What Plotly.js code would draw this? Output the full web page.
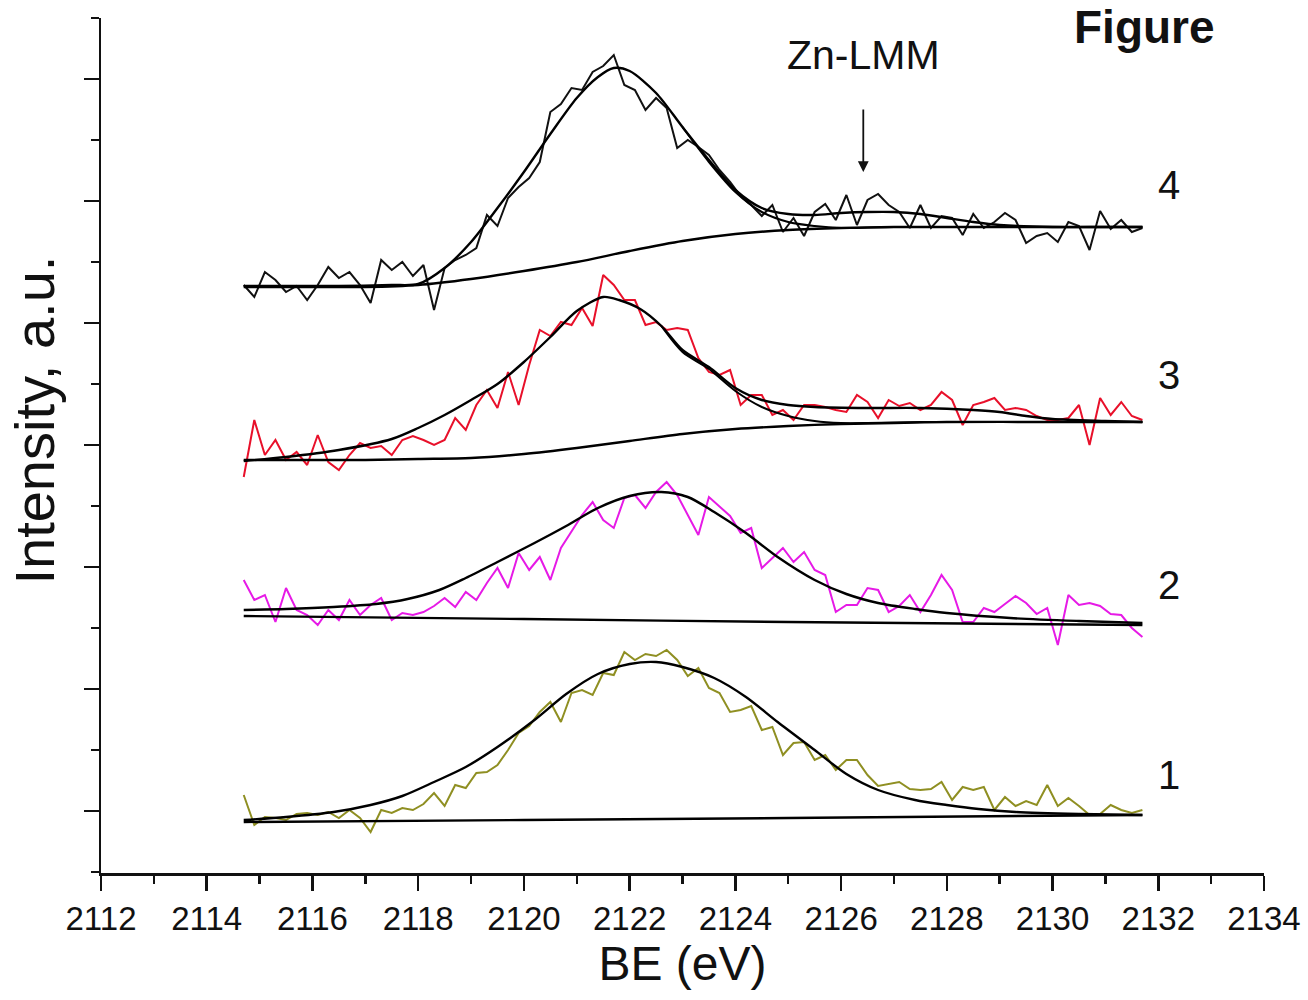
<!DOCTYPE html>
<html>
<head>
<meta charset="utf-8">
<script src="https://cdn.plot.ly/plotly-3.0.1.min.js"></script>
<style>
  html, body { margin: 0; padding: 0; background: #ffffff; }
  #chart { width: 1308px; height: 1000px; }
</style>
</head>
<body>
<div id="chart"></div>
<script>
// Binding energy grid of the measured spectra (eV)
const energy = [2114.7,2114.9,2115.1,2115.3,2115.5,2115.7,2115.9,2116.1,2116.3,2116.5,
  2116.7,2116.9,2117.1,2117.3,2117.5,2117.7,2117.9,2118.1,2118.3,2118.5,
  2118.7,2118.9,2119.1,2119.3,2119.5,2119.7,2119.9,2120.1,2120.3,2120.5,
  2120.7,2120.9,2121.1,2121.3,2121.5,2121.7,2121.9,2122.1,2122.3,2122.5,
  2122.7,2122.9,2123.1,2123.3,2123.5,2123.7,2123.9,2124.1,2124.3,2124.5,
  2124.7,2124.9,2125.1,2125.3,2125.5,2125.7,2125.9,2126.1,2126.3,2126.5,
  2126.7,2126.9,2127.1,2127.3,2127.5,2127.7,2127.9,2128.1,2128.3,2128.5,
  2128.7,2128.9,2129.1,2129.3,2129.5,2129.7,2129.9,2130.1,2130.3,2130.5,
  2130.7,2130.9,2131.1,2131.3,2131.5,2131.7];

// Measured intensities (a.u., vertically offset spectra)
const spec1 = [77,47,55,54,52,58,59,57,60,54,
  62,54,40,62,59,64,62,68,79,66,
  87,84,99,100,107,122,139,146,160,170,
  150,179,182,177,199,197,220,212,218,216,
  222,212,196,204,184,179,160,162,166,142,
  145,117,129,130,112,117,102,112,112,97,
  86,88,90,83,82,83,90,72,85,82,
  85,62,75,66,71,67,87,66,74,66,
  57,58,67,62,59,62];
const spec2 = [292,272,277,250,284,262,257,247,262,252,
  272,257,267,274,252,259,257,260,266,274,
  265,280,272,289,304,284,319,302,315,292,
  324,340,357,370,352,344,374,377,364,380,
  390,377,357,337,375,365,356,339,344,304,
  314,324,310,320,302,297,260,267,267,284,
  282,260,266,277,260,277,297,282,250,250,
  264,260,268,276,269,258,264,227,277,267,
  269,266,258,257,244,235];
const spec3 = [395,452,417,432,412,420,407,437,410,402,
  417,429,424,426,417,432,436,432,427,432,
  454,442,467,482,464,500,467,507,542,536,
  550,547,564,546,597,587,572,572,547,550,
  542,544,542,514,500,497,502,467,477,477,
  457,462,452,467,467,465,462,460,477,470,
  454,472,466,469,462,467,480,472,447,467,
  470,474,462,464,462,456,452,452,454,467,
  427,474,457,470,456,452];
const spec4 = [587,575,600,592,580,586,572,587,605,594,
  600,587,569,612,602,610,596,607,562,604,
  612,617,624,657,646,674,685,694,710,760,
  768,784,782,800,806,817,787,782,762,774,
  764,724,732,725,717,702,690,676,667,656,
  667,640,654,636,660,668,652,677,647,672,
  678,667,660,644,667,644,656,654,637,658,
  644,650,659,652,629,636,639,630,650,646,
  622,661,643,652,640,644];

// Fitted envelopes
const fit1E = [2114.7,2115.5,2116.4,2117.1,2117.7,2118.3,2118.9,2119.5,2120.2,2120.8,2121.4,2122,2122.5,2123,2123.6,2124.2,2124.8,2125.5,2126.1,2126.7,2127.4,2128,2128.6,2129.3,2130.5,2131.7];
const fit1I = [52,55,60,67,76,90,105,125,152,178,198,208,210,205,194,175,150,122,98,82,72,67,63,60,58,57];
const fit2E = [2114.7,2115.5,2116.4,2117.2,2117.8,2118.4,2118.9,2119.5,2120.2,2120.8,2121.4,2122,2122.6,2123.1,2123.6,2124.2,2124.8,2125.5,2126.1,2126.7,2127.4,2128,2129.2,2130.5,2131.7];
const fit2I = [262,263,265,268,273,282,294,310,329,346,364,376,380,375,360,339,315,292,278,269,263,259,254,251,249];
const fit3E = [2114.7,2115.5,2116.5,2117.5,2118,2118.5,2119,2119.5,2120,2120.5,2121,2121.5,2121.8,2122.2,2122.6,2123,2123.5,2124,2124.5,2125,2125.5,2126.5,2127.5,2128.5,2129,2129.5,2130,2131,2131.7];
const fit3I = [411,415,422,433,444,457,472,488,510,535,561,575,572,563,546,522,505,484,472,467,465,464,464,462,460,456,453,451,450];
const fit4E = [2114.7,2115.5,2116.5,2117.5,2118,2118.5,2119,2119.5,2120,2120.5,2121,2121.4,2121.7,2122,2122.5,2123,2123.5,2124,2124.5,2125,2125.5,2126,2126.5,2127,2127.5,2128,2128.5,2129,2130,2131,2131.7];
const fit4I = [586,586,586,587,588,604,630,664,700,738,774,795,804,801,779,745,712,682,664,658,657,659,660,660,658,654,650,647,645,645,645];

// Main-peak components (tails) for spectra 3 and 4
const main3E = [2122.6,2123,2123.5,2124,2124.5,2125,2125.5,2126,2126.5,2127.5,2129,2131.7];
const main3I = [546,520,503,481,465,456,451,449,449,450,450,450];
const main4E = [2123,2123.5,2124,2124.5,2125,2125.5,2126,2127,2128,2131.7];
const main4I = [745,710,680,660,650,646,644,645,645,645];

// Backgrounds
const bg1E = [2114.7,2120,2125,2131.7];
const bg1I = [50,52,54,57];
const bg2E = [2114.7,2120,2125,2131.7];
const bg2I = [256,253,250,247];
const bg3E = [2114.7,2116,2117,2118,2119,2120,2121,2122,2123,2124,2125,2126,2127,2128,2130,2131.7];
const bg3I = [412,412,412,413,414,418,424,431,438,443,446,448,449,450,450,450];
const bg4E = [2114.7,2116,2117,2118,2119,2120,2121,2122,2123,2124,2125,2126,2127,2128,2130,2131.7];
const bg4I = [585,585,585,587,593,601,610,621,631,638,642,644,645,645,645,645];

// Curve labels
const labelText = ['1','2','3','4'];
const labelE = [2132.2,2132.2,2132.2,2132.2];
const labelI = [97,287,497,687];

const xTickVals = [2112,2114,2116,2118,2120,2122,2124,2126,2128,2130,2132,2134];
const yMajor = [61,183,305,427,549,671,793];
const yMinor = [0,122,244,366,488,610,732,854];

const FONT = '"Liberation Sans", Arial, Helvetica, sans-serif';

function dataTrace(y, color) {
  return {x: energy, y: y, type: 'scatter', mode: 'lines',
          line: {color: color, width: 2}, hoverinfo: 'skip', showlegend: false};
}
function fitTrace(x, y, w) {
  return {x: x, y: y, type: 'scatter', mode: 'lines',
          line: {color: '#000000', width: w || 2.4, shape: 'spline', smoothing: 0.8},
          hoverinfo: 'skip', showlegend: false};
}

const traces = [
  dataTrace(spec1, '#8f8f22'),
  dataTrace(spec2, '#e61ae6'),
  dataTrace(spec3, '#e8102a'),
  dataTrace(spec4, '#111111'),
  fitTrace(bg1E, bg1I), fitTrace(fit1E, fit1I),
  fitTrace(bg2E, bg2I), fitTrace(fit2E, fit2I),
  fitTrace(bg3E, bg3I), fitTrace(main3E, main3I, 2), fitTrace(fit3E, fit3I),
  fitTrace(bg4E, bg4I), fitTrace(main4E, main4I, 2), fitTrace(fit4E, fit4I)
];

const annotations = labelText.map((t, i) => ({
  x: labelE[i], y: labelI[i], xref: 'x', yref: 'y', text: t, showarrow: false,
  font: {family: FONT, size: 40, color: '#111111'}, xanchor: 'center', yanchor: 'middle'
}));
annotations.push({
  x: 2126.42, y: 817, xref: 'x', yref: 'y', text: 'Zn-LMM', showarrow: false,
  font: {family: FONT, size: 41, color: '#111111'}, xanchor: 'center', yanchor: 'middle'
});
annotations.push({
  x: 2126.42, y: 700, xref: 'x', yref: 'y', ax: 2126.42, ay: 764, axref: 'x', ayref: 'y',
  text: '', showarrow: true, arrowhead: 2, arrowsize: 1.2, arrowwidth: 1.8, arrowcolor: '#111111'
});
annotations.push({
  x: 0.836, y: 1.0205, xref: 'paper', yref: 'paper', text: '<b>Figure</b>', showarrow: false,
  font: {family: FONT, size: 46, color: '#111111'}, xanchor: 'left', yanchor: 'top', borderpad: 0
});
annotations.push({
  x: -0.057, y: 0.53, xref: 'paper', yref: 'paper', text: 'Intensity, a.u.', showarrow: false,
  textangle: -90, font: {family: FONT, size: 56, color: '#111111'}, xanchor: 'center', yanchor: 'middle'
});

const layout = {
  width: 1308, height: 1000,
  margin: {l: 101, r: 44, t: 18, b: 127},
  paper_bgcolor: '#ffffff', plot_bgcolor: '#ffffff',
  showlegend: false,
  font: {family: FONT, color: '#111111'},
  xaxis: {
    range: [2112, 2134], showgrid: false, zeroline: false,
    showline: true, linecolor: '#111111', linewidth: 2.5,
    tickmode: 'array', tickvals: xTickVals, ticktext: xTickVals.map(String),
    ticks: 'outside', ticklen: 15, tickwidth: 2.5, tickcolor: '#111111',
    ticklabelstandoff: 0,
    tickfont: {family: FONT, size: 33, color: '#111111'},
    minor: {dtick: 1, tick0: 2112, ticks: 'outside', ticklen: 8, tickwidth: 2.5, tickcolor: '#111111', showgrid: false},
    title: {text: 'BE (eV)', font: {family: FONT, size: 48, color: '#111111'}, standoff: 6}
  },
  yaxis: {
    range: [-1, 854], showgrid: false, zeroline: false,
    showline: true, linecolor: '#111111', linewidth: 2.5,
    tickmode: 'array', tickvals: yMajor, showticklabels: false,
    ticks: 'outside', ticklen: 15, tickwidth: 2.5, tickcolor: '#111111',
    minor: {tickmode: 'array', tickvals: yMinor, ticks: 'outside', ticklen: 8, tickwidth: 2.5, tickcolor: '#111111', showgrid: false}
  },
  annotations: annotations
};

Plotly.newPlot('chart', traces, layout, {displayModeBar: false, staticPlot: true});
</script>
</body>
</html>
